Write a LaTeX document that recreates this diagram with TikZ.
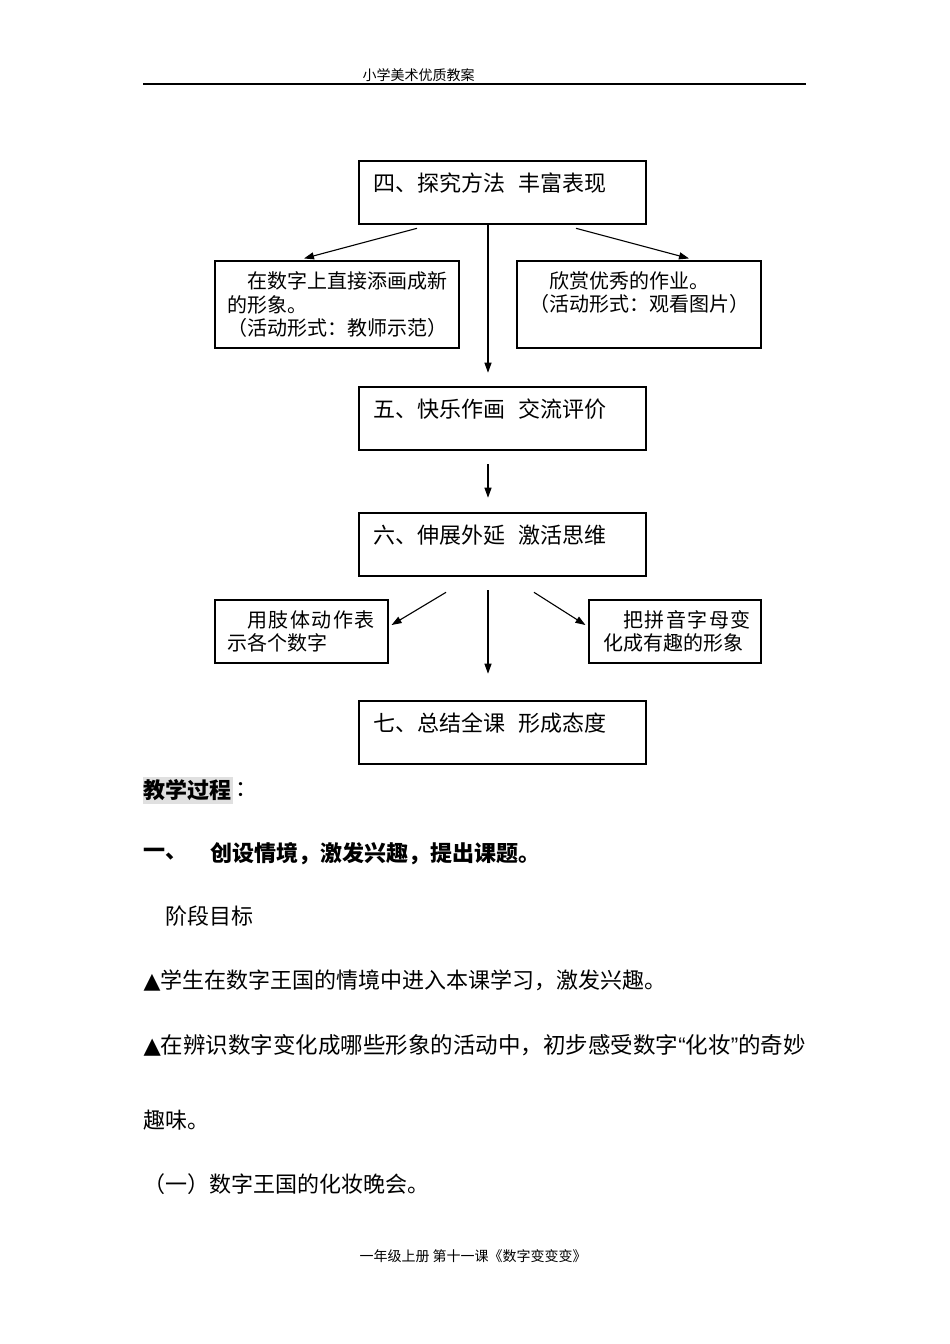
\documentclass[tikz,border=0pt]{standalone}
\usepackage{fontspec}
\setmainfont{Noto Sans CJK SC}
\newfontfamily\symfont{DejaVu Sans}
\newfontfamily\quotefont{Liberation Sans}
\usetikzlibrary{arrows.meta,positioning}
\newcommand\lsp{\kern1.5pt}

\begin{document}
\begin{tikzpicture}[x=1pt,y=-1pt,>={Triangle[length=10pt,width=7pt]},line width=1.1pt,
  font=\fontsize{22}{26}\selectfont,
  stage/.style={draw,line width=2.6pt,text width=259pt,inner xsep=14pt,inner ysep=0pt,
    text height=30.4pt,text depth=32.6pt,align=left},
  subbox/.style={draw,inner xsep=12pt,inner ysep=0pt,align=left,
    font=\fontsize{20}{23.5}\selectfont},
  txt/.style={anchor=west,inner sep=0pt}]
  \useasboundingbox (0,0) rectangle (950,1344);
  % header
  \node[txt,font=\fontsize{14}{16}\selectfont] (head) at (362,75) {小学美术优质教案};
  \draw[line width=1.2pt] (143,84) -- (806,84);
  % flow chart
  \node[stage] (b4) at (502.5,192.5) {四、探究方法\hspace{14pt}丰富表现};
  \node[subbox,text width=220pt,minimum height=87pt] (l4) at (337,304.5)
    {　在数字上直接添画成新\\的形象。\\（活动形式：教师示范）};
  \node[subbox,text width=220pt,minimum height=87pt,text depth=49.4pt] (r4) at (639,304.5)
    {　欣赏优秀的作业。\\（活动形式：观看图片）};
  \node[stage] (b5) at (502.5,418.5) {五、快乐作画\hspace{14pt}交流评价};
  \node[stage] (b6) at (502.5,544.5) {六、伸展外延\hspace{14pt}激活思维};
  \node[subbox,text width=149pt,minimum height=63pt,font=\fontsize{20}{22.5}\selectfont] (l6) at (301.5,631.5)
    {　用\lsp 肢\lsp 体\lsp 动\lsp 作\lsp 表\\示各个数字};
  \node[subbox,text width=144pt,inner xsep=14pt,minimum height=63pt,font=\fontsize{20}{22.5}\selectfont] (r6) at (675,631.5)
    {　把\lsp 拼\lsp 音\lsp 字\lsp 母\lsp 变\\化成有趣的形象};
  \node[stage] (b7) at (502.5,732.5) {七、总结全课\hspace{14pt}形成态度};
  \path[->] ([xshift=-85.5pt,yshift=-3pt]b4.south) edge ([xshift=-33pt,yshift=2pt]l4.north);
  \path[->] ([xshift=73.5pt,yshift=-3pt]b4.south) edge ([xshift=50pt,yshift=2pt]r4.north);
  \path[->] ([xshift=-14.5pt]b4.south) edge[shorten >=13pt] ([xshift=-14.5pt]b5.north);
  \path[->] ([xshift=-14.5pt]b5.south) edge[shorten <=13pt,shorten >=14pt] ([xshift=-14.5pt]b6.north);
  \path[->] ([xshift=-56.5pt,yshift=-15pt]b6.south) edge ([xshift=3pt,yshift=6.5pt]l6.east);
  \path[->] ([xshift=-14.5pt]b6.south) edge[shorten <=13pt,shorten >=26pt] ([xshift=-14.5pt]b7.north);
  \path[->] ([xshift=31.5pt,yshift=-15pt]b6.south) edge ([xshift=-3pt,yshift=6.5pt]r6.west);
  % lesson text
  \node[txt,fill=black!12,inner xsep=1pt,inner ysep=3pt,text height=19pt,text depth=2pt,
    font=\fontsize{22}{26}\selectfont\bfseries] (proc) at (142,790) {教学过程};
  \node[txt,right=2pt of proc] (colon) {：};
  \node[txt,font=\fontsize{22}{26}\selectfont\bfseries] (s1) at (143,854) {一、};
  \node[txt,font=\fontsize{22}{26}\selectfont\bfseries] (t1) at (210,854) {创设情境，激发兴趣，提出课题。};
  \node[txt] (goal) at (165,916) {阶段目标};
  \node[txt] (g1) at (143,981) {{\symfont ▲}学生在数字王国的情境中进入本课学习，激发兴趣。};
  \node[txt,font=\fontsize{22.5}{26}\selectfont] (g2) at (143,1045) {{\symfont ▲}在辨识数字变化成哪些形象的活动中，初步感受数字{\quotefont “}化妆{\quotefont ”}的奇妙};
  \node[txt] (g2b) at (143,1120) {趣味。};
  \node[txt] (part1) at (143,1184) {（一）数字王国的化妆晚会。};
  % footer
  \node[txt,font=\fontsize{14}{16}\selectfont] (foot) at (359,1256) {一年级上册 第十一课《数字变变变》};
\end{tikzpicture}
\end{document}
